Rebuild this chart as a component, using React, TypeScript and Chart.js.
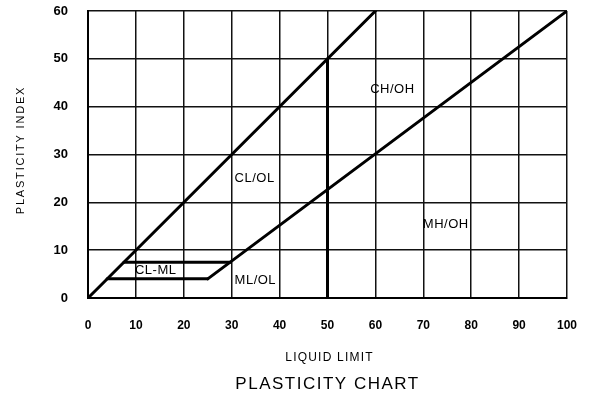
import React, { useEffect, useRef } from "react";
import { Chart, registerables } from "chart.js";

Chart.register(...registerables);

// Axis ranges / ticks
const xTickValues = [0, 10, 20, 30, 40, 50, 60, 70, 80, 90, 100];
const yTickValues = [0, 10, 20, 30, 40, 50, 60];

// Boundary lines (Liquid Limit, Plasticity Index)
const uLineLL = [0, 60];
const uLinePI = [0, 60];
const aLineLL = [25, 100];
const aLinePI = [4, 60];
const llFiftyLL = [50, 50];
const llFiftyPI = [0, 50];
const clmlLowLL = [4, 25];
const clmlLowPI = [4, 4];
const clmlHighLL = [7.5, 29.7];
const clmlHighPI = [7.5, 7.5];

// Zone labels
const zoneLabels = ["CL-ML", "ML/OL", "CL/OL", "CH/OH", "MH/OH"];
const zoneLabelLL = [9.8, 30.6, 30.6, 58.9, 69.9];
const zoneLabelPI = [5.8, 3.6, 24.9, 43.7, 15.3];

const xTitle = "LIQUID LIMIT";
const yTitle = "PLASTICITY INDEX";
const mainTitle = "PLASTICITY CHART";

const toPoints = (xs: number[], ys: number[]) => xs.map((x, i) => ({ x, y: ys[i] }));

const lineDs = (xs: number[], ys: number[]) => ({
  data: toPoints(xs, ys),
  showLine: true,
  borderColor: "#000",
  borderWidth: 3,
  pointRadius: 0,
  fill: false,
  borderCapStyle: "round" as const,
});

const zeroPad = (s: any) => {
  s.paddingTop = 0;
  s.paddingBottom = 0;
  s.paddingLeft = 0;
  s.paddingRight = 0;
};

const textPlugin = {
  id: "textPlugin",
  afterDatasetsDraw(chart: any) {
    const { ctx, chartArea, scales } = chart;
    const xs = scales.x;
    const ys = scales.y;
    ctx.save();
    ctx.fillStyle = "#000";
    ctx.textBaseline = "middle";
    ctx.textAlign = "left";
    ctx.font = "13px 'Liberation Sans', Arial, sans-serif";
    (ctx as any).letterSpacing = "0.5px";
    zoneLabels.forEach((t, i) => {
      ctx.fillText(t, xs.getPixelForValue(zoneLabelLL[i]), ys.getPixelForValue(zoneLabelPI[i]));
    });
    const cx = (chartArea.left + chartArea.right) / 2;
    ctx.textAlign = "center";
    ctx.font = "12px 'Liberation Sans', Arial, sans-serif";
    (ctx as any).letterSpacing = "1.2px";
    ctx.fillText(xTitle, cx + 2, 358);
    ctx.font = "17px 'Liberation Sans', Arial, sans-serif";
    (ctx as any).letterSpacing = "1.5px";
    ctx.fillText(mainTitle, cx, 384);
    ctx.translate(21, 150);
    ctx.rotate(-Math.PI / 2);
    ctx.font = "11px 'Liberation Sans', Arial, sans-serif";
    (ctx as any).letterSpacing = "1.8px";
    ctx.fillText(yTitle, 0, 0);
    ctx.restore();
  },
};

export default function App() {
  const ref = useRef<HTMLCanvasElement>(null);
  useEffect(() => {
    if (!ref.current) return;
    const chart = new Chart(ref.current, {
      type: "scatter",
      data: {
        datasets: [
          lineDs(uLineLL, uLinePI),
          lineDs(aLineLL, aLinePI),
          lineDs(llFiftyLL, llFiftyPI),
          lineDs(clmlLowLL, clmlLowPI),
          lineDs(clmlHighLL, clmlHighPI),
        ],
      },
      options: {
        animation: false,
        responsive: true,
        maintainAspectRatio: false,
        layout: { padding: { top: 11, right: 25, left: 0, bottom: 0 } },
        plugins: { legend: { display: false }, tooltip: { enabled: false }, title: { display: false } },
        scales: {
          x: {
            type: "linear",
            min: 0,
            max: 100,
            afterFit: (s: any) => { s.height = 111; zeroPad(s); },
            afterBuildTicks: (s: any) => { s.ticks = xTickValues.map((v) => ({ value: v })); },
            grid: { color: "#111", lineWidth: 1.5, drawTicks: false },
            border: { color: "#000", width: 2 },
            ticks: { padding: 20, color: "#000", font: { family: "'Liberation Sans', Arial", size: 12, weight: "bold" }, maxRotation: 0 },
          },
          y: {
            type: "linear",
            min: 0,
            max: 60,
            afterFit: (s: any) => { s.width = 88; zeroPad(s); },
            afterBuildTicks: (s: any) => { s.ticks = yTickValues.map((v) => ({ value: v })); },
            grid: { color: "#111", lineWidth: 1.5, drawTicks: false },
            border: { color: "#000", width: 2 },
            ticks: { padding: 20, color: "#000", font: { family: "'Liberation Sans', Arial", size: 13, weight: "bold" } },
          },
        },
      },
      plugins: [textPlugin],
    });
    return () => chart.destroy();
  }, []);
  return (
    <div style={{ position: "fixed", left: 0, top: 0, width: 592, height: 409, background: "#fff" }}>
      <canvas ref={ref} />
    </div>
  );
}
